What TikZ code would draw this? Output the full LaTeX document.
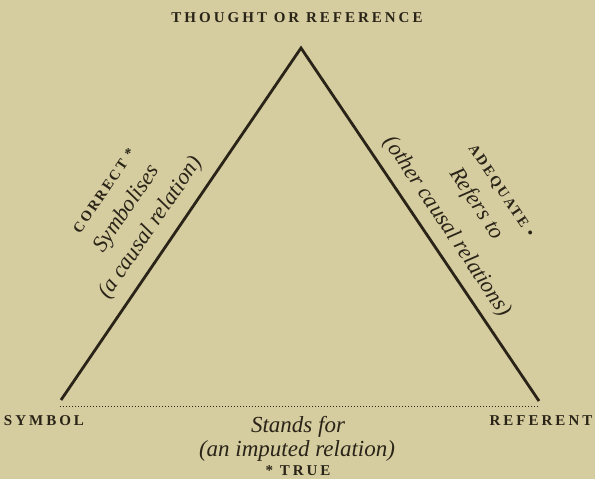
\documentclass[tikz,border=0pt]{standalone}
\usepackage{fontspec}
\setmainfont{Liberation Serif}
\begin{document}
\begin{tikzpicture}[x=1pt,y=-1pt,
  caps/.style={font=\bfseries\fontsize{15}{17}\selectfont\addfontfeature{LetterSpace=20}, text=ink, inner sep=0pt},
  rel/.style={font=\itshape\fontsize{23}{25}\selectfont, text=ink, inner sep=0pt},
  side/.style={font=\itshape\fontsize{22.5}{24}\selectfont, text=ink, inner sep=0pt},
  sidecaps/.style={font=\bfseries\fontsize{14.5}{16}\selectfont\addfontfeature{LetterSpace=15}, text=ink, inner sep=0pt},
  edge/.style={draw=ink, line width=2.8pt, line cap=butt, line join=miter},
]
\definecolor{bg}{HTML}{D5CC9F}
\definecolor{ink}{HTML}{2A2418}
\fill[bg] (0,0) rectangle (595,479);
\useasboundingbox (0,0) rectangle (595,479);

\coordinate (A) at (301,48);
\coordinate (S) at (61,400);
\coordinate (R) at (539,401);
\coordinate (S2) at (60,406);
\coordinate (R2) at (538,406);

\draw[edge] (S) -- (A) -- (R);
\draw[ink, line width=1pt, dash pattern=on 0.8pt off 2.2pt] (S2) -- (R2);

\node[caps] (thought) at (297,18) {THOUGHT OR REFERENCE};
\node[caps] (symbol) at (44,421) {SYMBOL};
\node[caps] (referent) at (541,421) {REFERENT};
\node[rel] (stands) at (298,427) {Stands for};
\node[rel] (imputed) at (297,451) {(an imputed relation)};
\node[caps] (true) at (298,471) {* TRUE};

\node[sidecaps, rotate=55.7] (correct) at (104,191) {CORRECT *};
\node[side, rotate=55.7] (symbolises) at (127,209) {Symbolises};
\node[side, rotate=55.7] (causal) at (151,228) {(a causal relation)};

\node[sidecaps, rotate=-56.3] (adequate) at (501,191) {ADEQUATE \textbullet};
\node[side, rotate=-56.3] (refers) at (476,204) {Refers to};
\node[side, rotate=-56.3] (other) at (447,227) {(other causal relations)};
\end{tikzpicture}
\end{document}
